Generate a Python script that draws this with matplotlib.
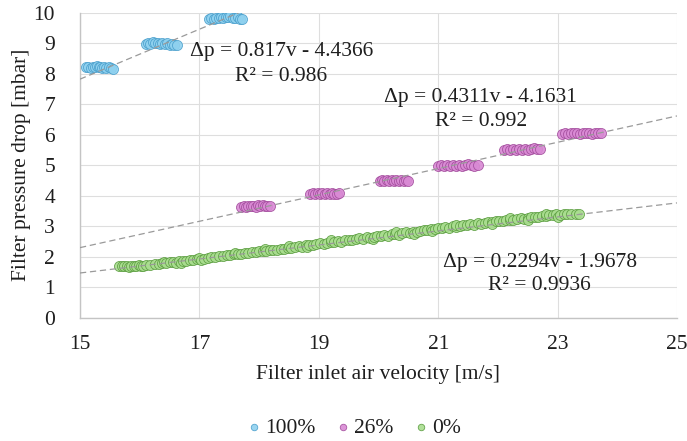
import matplotlib
matplotlib.use("Agg")
import matplotlib.pyplot as plt
import numpy as np

plt.rcParams['font.family'] = ['Liberation Serif', 'DejaVu Serif']

# ---- measured data -------------------------------------------------------
# 100 % series: three operating points
v_100 = [15.10, 15.14, 15.18, 15.21, 15.25, 15.28, 15.31, 15.34, 15.37, 15.40, 15.44, 15.48, 15.52, 15.56,
         16.10, 16.14, 16.18, 16.22, 16.26, 16.30, 16.34, 16.38, 16.42, 16.46, 16.50, 16.54, 16.58, 16.62,
         17.16, 17.20, 17.24, 17.28, 17.32, 17.36, 17.40, 17.44, 17.48, 17.52, 17.56, 17.60, 17.64, 17.68, 17.72]
p_100 = [8.20, 8.22, 8.19, 8.23, 8.21, 8.24, 8.20, 8.22, 8.18, 8.21, 8.19, 8.20, 8.17, 8.15,
         8.97, 9.00, 8.98, 9.02, 8.99, 9.01, 8.97, 9.00, 8.96, 8.99, 8.95, 8.97, 8.94, 8.93,
         9.80, 9.82, 9.79, 9.83, 9.81, 9.85, 9.82, 9.86, 9.84, 9.89, 9.83, 9.81, 9.84, 9.80, 9.79]

# 26 % series: six operating points
v_26 = [17.70, 17.74, 17.78, 17.82, 17.86, 17.90, 17.94, 17.98, 18.02, 18.06, 18.10, 18.14, 18.18,
        18.86, 18.90, 18.94, 18.98, 19.02, 19.06, 19.10, 19.14, 19.18, 19.22, 19.26, 19.30, 19.33,
        20.02, 20.06, 20.10, 20.14, 20.18, 20.22, 20.26, 20.30, 20.34, 20.38, 20.42, 20.46, 20.50,
        21.00, 21.05, 21.10, 21.15, 21.20, 21.25, 21.30, 21.35, 21.40, 21.45, 21.50, 21.55, 21.60, 21.66,
        22.10, 22.15, 22.20, 22.25, 22.30, 22.35, 22.40, 22.45, 22.50, 22.55, 22.60, 22.65, 22.70,
        23.08, 23.13, 23.18, 23.23, 23.28, 23.33, 23.38, 23.43, 23.48, 23.53, 23.58, 23.63, 23.68, 23.72]
p_26 = [3.64, 3.66, 3.63, 3.67, 3.65, 3.68, 3.64, 3.69, 3.66, 3.70, 3.67, 3.65, 3.68,
        4.06, 4.08, 4.05, 4.09, 4.07, 4.10, 4.06, 4.08, 4.05, 4.09, 4.07, 4.06, 4.08,
        4.49, 4.51, 4.48, 4.52, 4.50, 4.53, 4.49, 4.51, 4.50, 4.52, 4.49, 4.51, 4.50,
        4.98, 5.00, 4.97, 5.01, 4.99, 5.02, 4.98, 5.00, 4.99, 5.01, 5.03, 5.00, 4.99, 5.01,
        5.50, 5.52, 5.49, 5.53, 5.51, 5.52, 5.50, 5.54, 5.51, 5.53, 5.55, 5.52, 5.54,
        6.03, 6.05, 6.02, 6.06, 6.04, 6.07, 6.03, 6.05, 6.04, 6.06, 6.03, 6.05, 6.04, 6.06]

# 0 % series: continuous sweep
v_0 = [15.66, 15.70, 15.74, 15.78, 15.82, 15.86, 15.90, 15.94, 15.98, 16.02, 16.06, 16.10, 16.18, 16.25,
       16.32, 16.38, 16.40, 16.44, 16.50, 16.55, 16.60, 16.66, 16.70, 16.72, 16.78, 16.84, 16.90, 16.96,
       17.00, 17.02, 17.08, 17.14, 17.20, 17.26, 17.33, 17.40, 17.46, 17.52, 17.58, 17.60, 17.64, 17.70,
       17.76, 17.82, 17.88, 17.94, 18.00, 18.06, 18.10, 18.12, 18.18, 18.24, 18.30, 18.36, 18.42, 18.48,
       18.50, 18.54, 18.60, 18.66, 18.72, 18.78, 18.80, 18.84, 18.90, 18.96, 19.02, 19.08, 19.14, 19.20,
       19.20, 19.26, 19.32, 19.38, 19.44, 19.50, 19.56, 19.62, 19.68, 19.74, 19.80, 19.86, 19.90, 19.92,
       19.98, 20.04, 20.10, 20.16, 20.22, 20.28, 20.30, 20.34, 20.40, 20.46, 20.52, 20.58, 20.60, 20.64,
       20.70, 20.76, 20.82, 20.88, 20.90, 20.94, 21.00, 21.06, 21.12, 21.18, 21.24, 21.30, 21.30, 21.36,
       21.42, 21.48, 21.54, 21.60, 21.66, 21.72, 21.78, 21.84, 21.90, 21.90, 21.96, 22.02, 22.08, 22.14,
       22.20, 22.20, 22.26, 22.32, 22.38, 22.44, 22.50, 22.50, 22.56, 22.62, 22.68, 22.74, 22.80, 22.80,
       22.86, 22.92, 22.98, 23.00, 23.04, 23.10, 23.16, 23.22, 23.30, 23.36]
p_0 = [1.70, 1.69, 1.71, 1.70, 1.68, 1.71, 1.70, 1.69, 1.72, 1.70, 1.71, 1.73, 1.74, 1.78,
       1.76, 1.80, 1.84, 1.79, 1.82, 1.84, 1.80, 1.86, 1.80, 1.88, 1.85, 1.90, 1.89, 1.92,
       1.98, 1.90, 1.94, 1.97, 2.00, 1.99, 2.02, 2.03, 2.06, 2.05, 2.08, 2.14, 2.10, 2.09,
       2.12, 2.13, 2.16, 2.15, 2.18, 2.20, 2.27, 2.19, 2.22, 2.24, 2.23, 2.27, 2.26, 2.30,
       2.35, 2.28, 2.33, 2.35, 2.34, 2.38, 2.32, 2.40, 2.38, 2.42, 2.45, 2.43, 2.47, 2.49,
       2.56, 2.48, 2.52, 2.50, 2.55, 2.56, 2.54, 2.59, 2.61, 2.60, 2.64, 2.62, 2.58, 2.66,
       2.68, 2.67, 2.71, 2.70, 2.74, 2.75, 2.82, 2.73, 2.78, 2.80, 2.79, 2.83, 2.76, 2.82,
       2.86, 2.88, 2.87, 2.91, 2.84, 2.90, 2.94, 2.93, 2.97, 2.96, 3.00, 2.99, 3.05, 3.02,
       3.04, 3.03, 3.07, 3.06, 3.10, 3.09, 3.12, 3.14, 3.13, 3.08, 3.16, 3.18, 3.17, 3.20,
       3.22, 3.26, 3.21, 3.24, 3.26, 3.25, 3.28, 3.22, 3.30, 3.29, 3.32, 3.34, 3.33, 3.40,
       3.36, 3.38, 3.40, 3.32, 3.38, 3.41, 3.39, 3.42, 3.40, 3.41]

# linear fits (slope, intercept, R^2)
fit_100 = (0.817, -4.4366, 0.986)
fit_26 = (0.4311, -4.1631, 0.992)
fit_0 = (0.2294, -1.9678, 0.9936)

labels = ['100%', '26%', '0%']
x_ticks = [15, 17, 19, 21, 23, 25]
y_ticks = list(range(0, 11))

FS = 15.5
TXT = '#1e1e1e'

# ---- figure ---------------------------------------------------------------
fig = plt.figure(figsize=(6.87, 4.41), dpi=100)
ax = fig.add_axes([80 / 687, 1 - 318 / 441, 597 / 687, 305.5 / 441])

series = [
    (v_100, p_100, '#8fd1ef', '#4a9fcc', labels[0]),
    (v_26, p_26, '#d98ad4', '#a24c9c', labels[1]),
    (v_0, p_0, '#a9dd8f', '#5b9d40', labels[2]),
]
for v, p, fc, ec, lab in series:
    ax.scatter(v, p, s=52, facecolor=fc, edgecolor=ec, linewidth=0.6,
               alpha=0.9, label=lab, zorder=3)

# trendlines
xs = np.array([15.0, 25.0])
for m, b, _ in (fit_100, fit_26, fit_0):
    ax.plot(xs, m * xs + b, color='#9a9a9a', lw=0.9, ls=(0, (5, 3)), zorder=4)

ax.set_xlim(15, 25)
ax.set_ylim(0, 10)
ax.set_xticks(x_ticks)
ax.set_yticks(y_ticks)
ax.grid(True, color='#dedede', lw=0.8, zorder=0)
ax.set_axisbelow(True)
for side in ('top', 'right'):
    ax.spines[side].set_visible(False)
for side in ('left', 'bottom'):
    ax.spines[side].set_color('#c4c4c4')
    ax.spines[side].set_linewidth(1.0)
ax.tick_params(axis='both', length=0, labelsize=FS, colors=TXT)
ax.tick_params(axis='y', pad=18)
ax.tick_params(axis='x', pad=12)

ax.set_xlabel('Filter inlet air velocity [m/s]', fontsize=FS, color=TXT)
ax.set_ylabel('Filter pressure drop [mbar]', fontsize=FS, color=TXT)
ax.xaxis.label.set_va('center')
ax.yaxis.label.set_va('center')
ax.xaxis.set_label_coords(0.5, (318 - 375) / 305.5)
ax.yaxis.set_label_coords((22 - 80) / 597, 0.5)

# fit equations
def eq_text(fit, x, y1, y2):
    m, b, r2 = fit
    ax.text(x, y1, f'Δp = {m:g}v - {abs(b):g}', ha='center', va='center',
            fontsize=FS, color=TXT, zorder=5)
    ax.text(x, y2, f'R² = {r2:g}', ha='center', va='center',
            fontsize=FS, color=TXT, zorder=5)

eq_text(fit_100, 18.37, 8.71, 7.89)
eq_text(fit_26, 21.71, 7.23, 6.42)
eq_text(fit_0, 22.70, 1.83, 1.05)

fig.legend(loc='center', bbox_to_anchor=(352 / 687, 1 - 428 / 441), ncol=3,
           frameon=False, fontsize=FS, markerscale=0.65, handletextpad=0.0,
           columnspacing=0.8, borderaxespad=0, handlelength=1.0,
           labelcolor=TXT)

fig.savefig('out.png', dpi=100)
